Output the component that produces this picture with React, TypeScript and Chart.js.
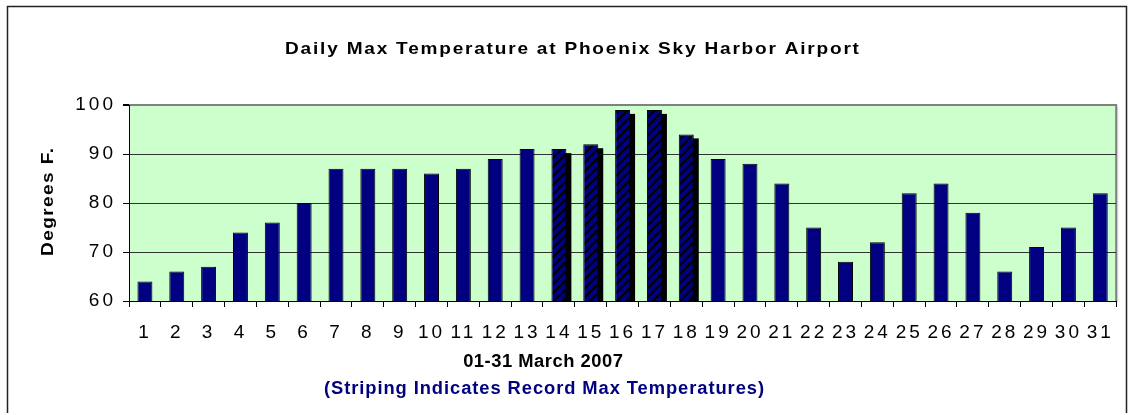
import React, { useEffect, useRef } from "react";
import { Chart, registerables } from "chart.js";

Chart.register(...registerables);

// ---- data ----
const days: string[] = [
  "1", "2", "3", "4", "5", "6", "7", "8", "9", "10",
  "11", "12", "13", "14", "15", "16", "17", "18", "19", "20",
  "21", "22", "23", "24", "25", "26", "27", "28", "29", "30", "31",
];
const maxTemps: number[] = [
  64, 66, 67, 74, 76, 80, 87, 87, 87, 86,
  87, 89, 91, 91, 92, 99, 99, 94, 89, 88,
  84, 75, 68, 72, 82, 84, 78, 66, 71, 75, 82,
];
const recordDays: number[] = [14, 15, 16, 17, 18];
const yTicks: number[] = [60, 70, 80, 90, 100];

const titleText = "Daily Max Temperature at Phoenix Sky Harbor Airport";
const yTitleText = "Degrees F.";
const xTitleText = "01-31 March 2007";
const noteText = "(Striping Indicates Record Max Temperatures)";

const NAVY = "#000080";
const FONT = "'Liberation Sans', Arial, Helvetica, sans-serif";

function spacedText(
  ctx: CanvasRenderingContext2D,
  text: string,
  cx: number,
  y: number,
  font: string,
  color: string,
  spacing: number,
  sx: number
) {
  ctx.save();
  ctx.translate(cx, y);
  ctx.scale(sx, 1);
  ctx.font = font;
  (ctx as any).letterSpacing = spacing + "px";
  ctx.fillStyle = color;
  ctx.textAlign = "left";
  ctx.textBaseline = "alphabetic";
  const w = ctx.measureText(text).width;
  ctx.fillText(text, -(w - spacing) / 2, 0);
  ctx.restore();
}

function makePattern(): CanvasPattern | string {
  const s = 9;
  const p = document.createElement("canvas");
  p.width = s;
  p.height = s;
  const c = p.getContext("2d");
  if (!c) return NAVY;
  c.fillStyle = NAVY;
  c.fillRect(0, 0, s, s);
  c.strokeStyle = "#000";
  c.lineWidth = 2.2;
  c.beginPath();
  c.moveTo(-2, s + 2);
  c.lineTo(s + 2, -2);
  c.moveTo(-2, 2);
  c.lineTo(2, -2);
  c.moveTo(s - 2, s + 2);
  c.lineTo(s + 2, s - 2);
  c.stroke();
  const pat = c.createPattern(p, "repeat");
  return pat || NAVY;
}

export default function App() {
  const ref = useRef<HTMLCanvasElement | null>(null);

  useEffect(() => {
    const canvas = ref.current;
    if (!canvas) return;
    const pattern = makePattern();

    const normalData = maxTemps.map((v, i) =>
      recordDays.includes(i + 1) ? null : v
    );
    const recordData = maxTemps.map((v, i) =>
      recordDays.includes(i + 1) ? v : null
    );

    const decor = {
      id: "decor",
      beforeLayout(chart: any) {
        chart.ctx.letterSpacing = "3px";
      },
      beforeDraw(chart: any) {
        const { ctx, chartArea } = chart;
        ctx.save();
        ctx.fillStyle = "#fff";
        ctx.fillRect(0, 0, chart.width, chart.height);
        const { left, top, right, bottom } = chartArea;
        ctx.fillStyle = "#CCFFCC";
        ctx.fillRect(left, top, right - left, bottom - top);
        ctx.strokeStyle = "#808080";
        ctx.lineWidth = 2;
        ctx.beginPath();
        ctx.moveTo(left, top);
        ctx.lineTo(right, top);
        ctx.lineTo(right, bottom);
        ctx.stroke();
        ctx.strokeStyle = "#c8c8c8";
        ctx.lineWidth = 1;
        ctx.beginPath();
        ctx.moveTo(right + 1.5, top + 2);
        ctx.lineTo(right + 1.5, bottom + 1);
        ctx.stroke();
        ctx.restore();
        chart.ctx.letterSpacing = "3px";
      },
      beforeDatasetDraw(chart: any, args: any) {
        if (args.index !== 1) return;
        const ctx = chart.ctx as CanvasRenderingContext2D;
        const area = chart.chartArea;
        ctx.save();
        ctx.beginPath();
        ctx.rect(area.left, area.top, area.right - area.left, area.bottom - area.top);
        ctx.clip();
        ctx.fillStyle = "#000";
        args.meta.data.forEach((el: any) => {
          const { x, y, base, width } = el.getProps(["x", "y", "base", "width"], true);
          if (![x, y, base, width].every((n: any) => Number.isFinite(n))) return;
          ctx.fillRect(x - width / 2 + 5, y + 4, width, base - y);
        });
        ctx.restore();
      },
      afterDraw(chart: any) {
        const ctx = chart.ctx as CanvasRenderingContext2D;
        ctx.save();
        (ctx as any).letterSpacing = "0px";
        ctx.strokeStyle = "#222";
        ctx.lineWidth = 1.5;
        ctx.beginPath();
        ctx.moveTo(7.5, 413);
        ctx.lineTo(7.5, 6.5);
        ctx.lineTo(1126.5, 6.5);
        ctx.lineTo(1126.5, 413);
        ctx.stroke();
        ctx.restore();

        spacedText(ctx, titleText, 572, 54, `bold 17px ${FONT}`, "#000", 1.6, 1.12);
        spacedText(ctx, xTitleText, 543, 367, `bold 18px ${FONT}`, "#000", 0.5, 1.02);
        spacedText(ctx, noteText, 544, 394, `bold 18px ${FONT}`, NAVY, 0.9, 1.02);

        ctx.save();
        ctx.translate(53, 202);
        ctx.rotate(-Math.PI / 2);
        spacedText(ctx, yTitleText, 0, 0, `bold 17px ${FONT}`, "#000", 1.25, 1.12);
        ctx.restore();
      },
    };

    const chart = new Chart(canvas, {
      type: "bar",
      data: {
        labels: days,
        datasets: [
          {
            label: "Daily max",
            data: normalData,
            backgroundColor: NAVY,
            borderColor: "#000",
            borderWidth: 1,
            barPercentage: 0.47,
            categoryPercentage: 1,
            grouped: false,
          } as any,
          {
            label: "Record max",
            data: recordData,
            backgroundColor: pattern as any,
            borderColor: "#000",
            borderWidth: 1,
            barPercentage: 0.47,
            categoryPercentage: 1,
            grouped: false,
            clip: 0,
          } as any,
        ],
      },
      options: {
        responsive: false,
        animation: false,
        devicePixelRatio: 1,
        events: [],
        layout: { padding: { left: 0, top: 105, right: 10, bottom: 0 } },
        plugins: {
          legend: { display: false },
          title: { display: false },
          tooltip: { enabled: false },
        },
        scales: {
          x: {
            offset: true,
            grid: {
              offset: true,
              drawOnChartArea: false,
              tickLength: 6,
              color: "#000",
              lineWidth: 1,
            },
            border: { color: "#000", width: 1 },
            ticks: {
              color: "#000",
              font: { family: FONT, size: 19 },
              padding: 14,
              maxRotation: 0,
              minRotation: 0,
              autoSkip: false,
            },
            afterFit: (s: any) => {
              s.height = 114;
            },
          },
          y: {
            min: yTicks[0],
            max: yTicks[yTicks.length - 1],
            afterBuildTicks: (s: any) => {
              s.ticks = yTicks.map((v) => ({ value: v }));
            },
            ticks: {
              stepSize: 10,
              color: "#000",
              font: { family: FONT, size: 19 },
              padding: 7,
            },
            grid: {
              color: (c: any) =>
                c.tick && c.tick.value === 100 ? "#808080" : "#333",
              tickColor: "#000",
              tickLength: 6,
              lineWidth: (c: any) => (c.tick && c.tick.value === 100 ? 2 : 1),
            },
            border: { color: "#000", width: 1 },
            afterFit: (s: any) => {
              s.width = 129;
            },
          },
        },
      } as any,
      plugins: [decor as any],
    });

    return () => {
      chart.destroy();
    };
  }, []);

  return (
    <div
      style={{
        position: "fixed",
        left: 0,
        top: 0,
        width: 1128,
        height: 415,
        background: "#fff",
      }}
    >
      <canvas
        ref={ref}
        width={1128}
        height={415}
        style={{ display: "block", width: 1128, height: 415 }}
      />
    </div>
  );
}
